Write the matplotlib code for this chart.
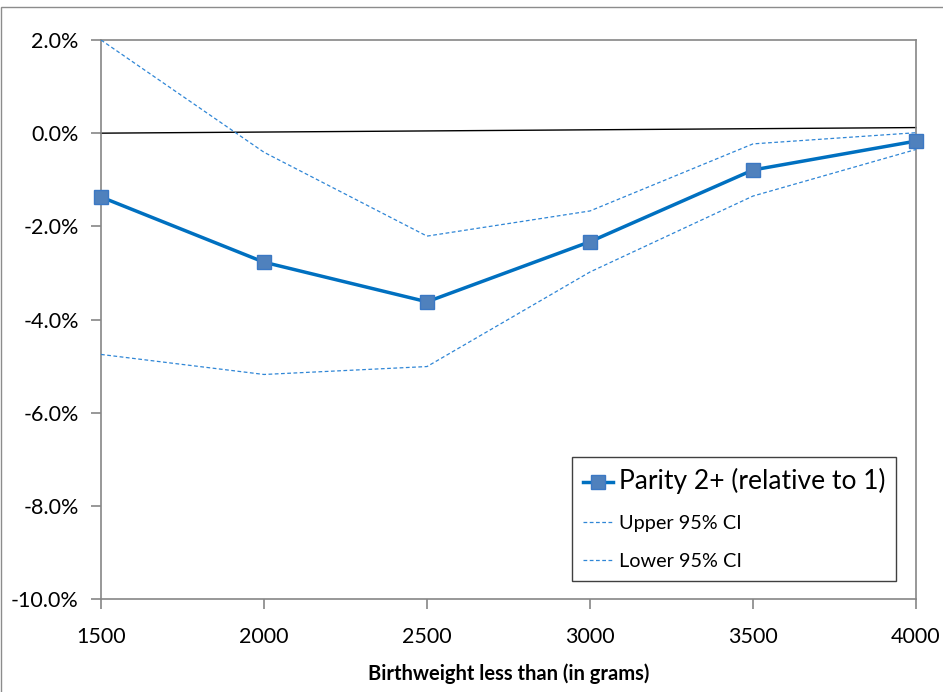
import matplotlib
matplotlib.use("Agg")
import matplotlib.pyplot as plt
from matplotlib.patches import Rectangle
from matplotlib.ticker import FuncFormatter

# birthweight cut-offs (grams)
weights = [1500, 2000, 2500, 3000, 3500, 4000]
# parity 2+ relative to 1, in percent
parity = [-1.37, -2.77, -3.62, -2.33, -0.79, -0.17]
upper_ci = [2.0, -0.41, -2.21, -1.67, -0.23, 0.01]
lower_ci = [-4.75, -5.18, -5.01, -2.98, -1.35, -0.35]
# reference line
ref_x = [1500, 4000]
ref_y = [0.0, 0.12]

plt.rcParams['font.family'] = ['Lato', 'DejaVu Sans']

fig = plt.figure(figsize=(9.43, 6.92), dpi=100)
ax = fig.add_axes([101/943, 1-599/692, (916-101)/943, (599-40)/692])

# outer chart border
fig.patches.append(Rectangle((1/943, -0.05), 1.1, 1-7/692+0.05, transform=fig.transFigure,
                             fill=False, edgecolor='#8c8c8c', linewidth=1.0))

ax.plot(ref_x, ref_y, color='black', linewidth=1.0, zorder=2, clip_on=False)
ax.plot(weights, parity, color='#0070C0', linewidth=2.5, marker='s', markersize=10,
        markerfacecolor='#4F81BD', markeredgecolor='#3B78C4', markeredgewidth=1.0,
        label='Parity 2+ (relative to 1)', zorder=4, clip_on=False)
ax.plot(weights, upper_ci, color='#2F86D6', linewidth=0.9, linestyle=(0, (3, 2)),
        label='Upper 95% CI', zorder=3)
ax.plot(weights, lower_ci, color='#2F86D6', linewidth=0.9, linestyle=(0, (3, 2)),
        label='Lower 95% CI', zorder=3)

ax.set_xlim(1500, 4000)
ax.set_ylim(-10, 2)
ax.set_xticks(weights)
ax.set_yticks([2, 0, -2, -4, -6, -8, -10])
ax.yaxis.set_major_formatter(FuncFormatter(lambda v, p: f"{v:.1f}%"))

for s in ax.spines.values():
    s.set_color('#868686')
    s.set_linewidth(1.2)
ax.tick_params(axis='both', colors='#868686', length=7, width=1.2, labelcolor='black',
               labelsize=15.5)
ax.tick_params(axis='x', pad=13)
ax.tick_params(axis='y', pad=9)

ax.set_xlabel('Birthweight less than (in grams)', fontsize=14.5, fontweight='bold', labelpad=12)

leg = ax.legend(loc='lower right', bbox_to_anchor=(896/943, 1-581/692), bbox_transform=fig.transFigure,
                borderaxespad=0, frameon=True, fancybox=False, edgecolor='#404040', framealpha=1,
                handlelength=1.5, handletextpad=0.3, borderpad=0.55, labelspacing=1.05,
                fontsize=14.3)
leg.get_frame().set_linewidth(1.0)
texts = leg.get_texts()
texts[0].set_fontsize(19)

fig.savefig('out.png', dpi=100)
